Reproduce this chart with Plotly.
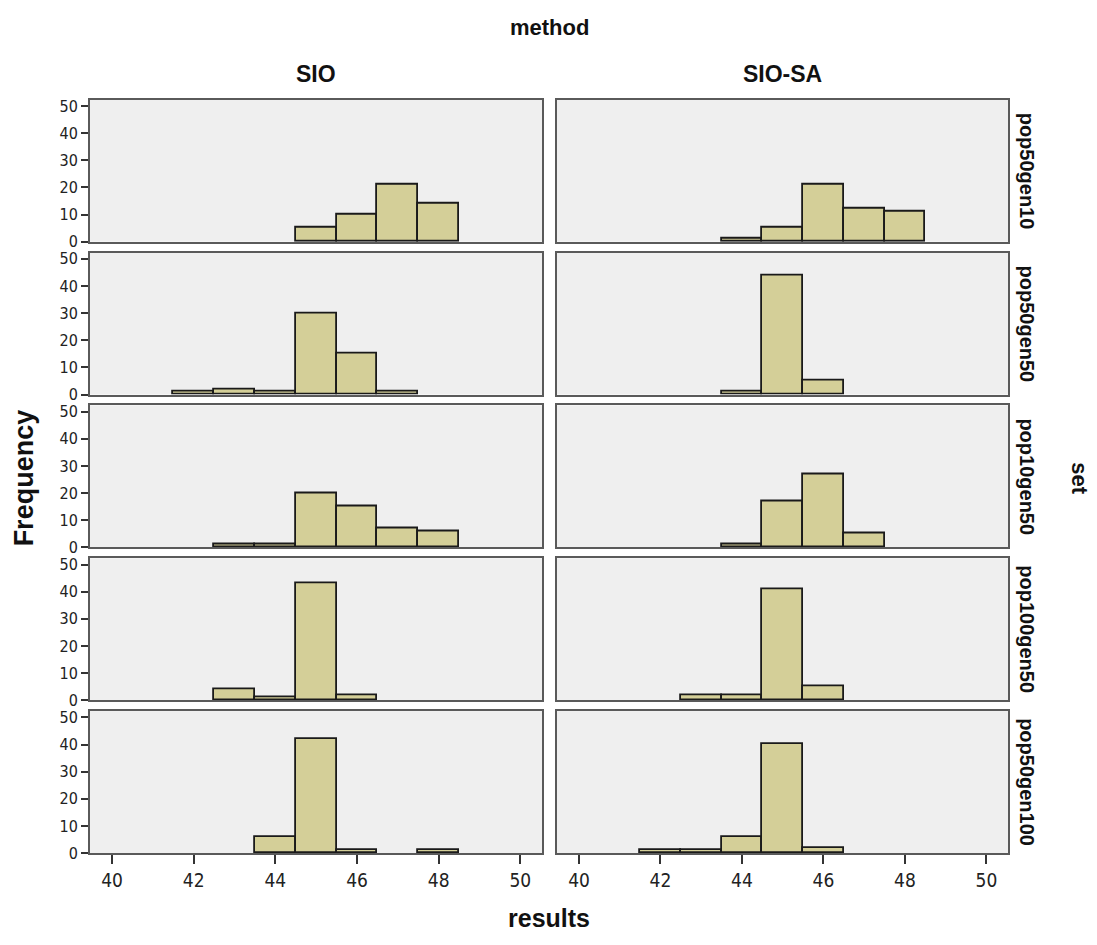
import plotly.graph_objects as go

W, H = 1097, 945

methods = ["SIO", "SIO-SA"]
sets = ["pop50gen10", "pop50gen50", "pop10gen50", "pop100gen50", "pop50gen100"]
bin_centers = [42, 43, 44, 45, 46, 47, 48]

# counts per bin (bins of width 1 centred on bin_centers)
sio_pop50gen10 = [0, 0, 0, 5, 10, 21, 14]
sa_pop50gen10 = [0, 0, 1, 5, 21, 12, 11]
sio_pop50gen50 = [1, 2, 1, 30, 15, 1, 0]
sa_pop50gen50 = [0, 0, 1, 44, 5, 0, 0]
sio_pop10gen50 = [0, 1, 1, 20, 15, 7, 6]
sa_pop10gen50 = [0, 0, 1, 17, 27, 5, 0]
sio_pop100gen50 = [0, 4, 1, 43, 2, 0, 0]
sa_pop100gen50 = [0, 2, 2, 41, 5, 0, 0]
sio_pop50gen100 = [0, 0, 6, 42, 1, 0, 1]
sa_pop50gen100 = [1, 1, 6, 40, 2, 0, 0]

counts = [
    [sio_pop50gen10, sa_pop50gen10],
    [sio_pop50gen50, sa_pop50gen50],
    [sio_pop10gen50, sa_pop10gen50],
    [sio_pop100gen50, sa_pop100gen50],
    [sio_pop50gen100, sa_pop50gen100],
]

x_ticks = [40, 42, 44, 46, 48, 50]
y_ticks = [0, 10, 20, 30, 40, 50]

# panel pixel geometry
col_px = [(90, 542), (557, 1008)]
row_px = [(98, 242), (253, 397), (408, 552), (563, 707), (718, 862)]

BAR_FILL = "#d4cf98"
BORDER = "#5a5a5a"
BG = "#efefef"
NARROW = "Liberation Sans Narrow, Arial Narrow, DejaVu Sans Condensed, sans-serif"
XTICKFONT = dict(family=NARROW, size=19, color="#222222")
YTICKFONT = dict(family=NARROW, size=16, color="#222222")
BOLD = "Liberation Sans, Arial, sans-serif"

fig = go.Figure()
layout = {}
k = 0
for r in range(5):
    for c in range(2):
        k += 1
        xa = "x" if k == 1 else f"x{k}"
        ya = "y" if k == 1 else f"y{k}"
        xs = [b for b, v in zip(bin_centers, counts[r][c]) if v > 0]
        ys = [v for v in counts[r][c] if v > 0]
        fig.add_trace(go.Bar(
            x=xs, y=ys, width=1,
            marker=dict(color=BAR_FILL, line=dict(color="#1a1a1a", width=1.8)),
            xaxis=xa, yaxis=ya, showlegend=False, hoverinfo="x+y"))
        x0, x1 = col_px[c]
        y0, y1 = row_px[r]
        xkey = "xaxis" if k == 1 else f"xaxis{k}"
        ykey = "yaxis" if k == 1 else f"yaxis{k}"
        bottom = (r == 4)
        layout[xkey] = dict(
            domain=[x0 / W, x1 / W], anchor=ya, range=[39.46, 50.53],
            tickvals=x_ticks, ticktext=[str(v) for v in x_ticks],
            showticklabels=bottom, ticks="outside" if bottom else "",
            ticklen=9, tickwidth=2, tickcolor="#333333",
            showgrid=False, zeroline=False,
            showline=True, mirror=True, linecolor=BORDER, linewidth=2,
            tickfont=XTICKFONT, fixedrange=True)
        layout[ykey] = dict(
            domain=[1 - y1 / H, 1 - y0 / H], anchor=xa, range=[0, 52.3],
            tickvals=y_ticks, ticktext=[str(v) for v in y_ticks],
            showticklabels=(c == 0), ticks="outside" if c == 0 else "",
            ticklen=7, tickwidth=2, tickcolor="#333333",
            showgrid=False, zeroline=False,
            showline=True, mirror=True, linecolor=BORDER, linewidth=2,
            tickfont=YTICKFONT, fixedrange=True)


def ann(text, xp, yp, size, angle=0):
    return dict(text=f"<b>{text}</b>", x=xp / W, y=1 - yp / H, xref="paper", yref="paper",
                xanchor="center", yanchor="middle", showarrow=False, textangle=angle,
                font=dict(family=BOLD, size=size, color="#111111"))


annotations = [
    ann("method", 549, 25, 22),
    ann("results", 549, 928, 25),
    ann("Frequency", 24, 482, 27, -90),
    ann("set", 1080, 482, 22, 90),
]
for c, m in enumerate(methods):
    annotations.append(ann(m, (col_px[c][0] + col_px[c][1]) / 2, 72, 23))
for r, s in enumerate(sets):
    annotations.append(ann(s, 1027, (row_px[r][0] + row_px[r][1]) / 2, 20, 90))

fig.update_layout(
    width=W, height=H, margin=dict(l=0, r=0, t=0, b=0),
    paper_bgcolor="white", plot_bgcolor=BG, bargap=0,
    annotations=annotations, **layout)

fig.write_html("out.html")
